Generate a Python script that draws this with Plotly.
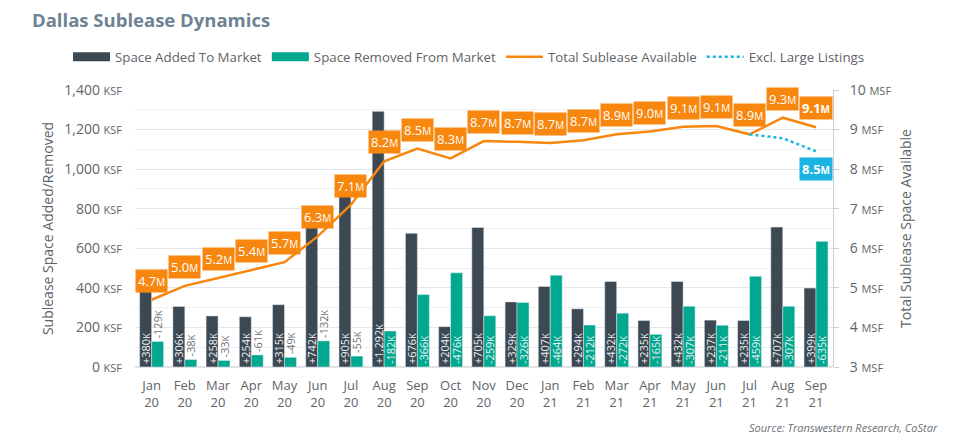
import plotly.graph_objects as go

# data
months = ["Jan<br>20", "Feb<br>20", "Mar<br>20", "Apr<br>20", "May<br>20", "Jun<br>20", "Jul<br>20",
          "Aug<br>20", "Sep<br>20", "Oct<br>20", "Nov<br>20", "Dec<br>20", "Jan<br>21", "Feb<br>21",
          "Mar<br>21", "Apr<br>21", "May<br>21", "Jun<br>21", "Jul<br>21", "Aug<br>21", "Sep<br>21"]
added_ksf = [380, 306, 258, 254, 315, 742, 905, 1292, 676, 204, 705, 329, 407, 294, 432, 235, 432, 237, 235, 707, 399]
removed_ksf = [129, 38, 33, 61, 49, 132, 55, 182, 366, 476, 259, 326, 464, 212, 272, 165, 307, 211, 459, 307, 635]
total_msf = [4.7, 5.05, 5.25, 5.45, 5.65, 6.3, 7.1, 8.2, 8.52, 8.27, 8.71, 8.69, 8.66, 8.73, 8.88, 8.95,
             9.07, 9.09, 8.88, 9.3, 9.06]
total_labels = ["4.7", "5.0", "5.2", "5.4", "5.7", "6.3", "7.1", "8.2", "8.5", "8.3", "8.7", "8.7", "8.7", "8.7",
                "8.9", "9.0", "9.1", "9.1", "8.9", "9.3", "9.1"]
excl_months = ["Jul<br>21", "Aug<br>21", "Sep<br>21"]
excl_msf = [8.88, 8.78, 8.45]
excl_label = "8.5"

left_ticks = [0, 200, 400, 600, 800, 1000, 1200, 1400]
right_ticks = [3, 4, 5, 6, 7, 8, 9, 10]

DARK = "#3c4852"
TEAL = "#00a88f"
ORANGE = "#f7870f"
CYAN = "#1ab4e3"
GREY = "#5f6468"
FONT = "Open Sans"

small = "<span style='font-size:%dpx'>%s</span>"

def bar_text(vals, sign):
    return [sign + format(v, ",") + small % (9, "K") for v in vals]

fig = go.Figure()

# bars, labels sit at the base when they fit, above the bar when not
fig.add_trace(go.Bar(x=months, y=added_ksf, name="Space Added To Market", showlegend=False,
                     marker=dict(color=DARK), hoverinfo="skip",
                     text=bar_text(added_ksf, "+"), textangle=-90, constraintext="none",
                     textposition=["inside" if v >= 150 else "outside" for v in added_ksf],
                     insidetextanchor="start",
                     insidetextfont=dict(family=FONT, size=11, color="#eef1f3"),
                     outsidetextfont=dict(family=FONT, size=11, color="#6b7075")))
fig.add_trace(go.Bar(x=months, y=removed_ksf, name="Space Removed From Market", showlegend=False,
                     marker=dict(color=TEAL), hoverinfo="skip",
                     text=bar_text(removed_ksf, "-"), textangle=-90, constraintext="none",
                     textposition=["inside" if v >= 150 else "outside" for v in removed_ksf],
                     insidetextanchor="start",
                     insidetextfont=dict(family=FONT, size=11, color="#eef1f3"),
                     outsidetextfont=dict(family=FONT, size=11, color="#6b7075")))

# legend entries with wide rectangles like the original
fig.add_trace(go.Scatter(x=[None], y=[None], mode="lines", name="Space Added To Market",
                         line=dict(color=DARK, width=9)))
fig.add_trace(go.Scatter(x=[None], y=[None], mode="lines", name="Space Removed From Market",
                         line=dict(color=TEAL, width=9)))

fig.add_trace(go.Scatter(x=months, y=total_msf, name="Total Sublease Available", yaxis="y2",
                         mode="lines", line=dict(color=ORANGE, width=2.5), hoverinfo="skip"))
fig.add_trace(go.Scatter(x=excl_months, y=excl_msf, name="Excl. Large Listings", yaxis="y2",
                         mode="lines", line=dict(color=CYAN, width=2.5, dash="dot"), hoverinfo="skip"))

annotations = []

# orange value boxes above the total line
for i, (m, v, t) in enumerate(zip(months, total_msf, total_labels)):
    txt = t + small % (10, "M")
    if i == len(months) - 1:
        txt = "<b>" + txt + "</b>"
    annotations.append(dict(x=m, y=v, xref="x", yref="y2", yshift=19, text=txt,
                            showarrow=False, bgcolor=ORANGE, borderpad=2,
                            font=dict(family=FONT, size=13, color="white")))

annotations.append(dict(x=excl_months[-1], y=excl_msf[-1], xref="x", yref="y2", yshift=-18,
                        text="<b>" + excl_label + small % (10, "M") + "</b>",
                        showarrow=False, bgcolor=CYAN, borderpad=2,
                        font=dict(family=FONT, size=13, color="white")))

annotations.append(dict(text="<i>Source: Transwestern Research, CoStar</i>", xref="paper", yref="paper",
                        x=1.153, y=-0.22, xanchor="right", yanchor="middle", showarrow=False,
                        font=dict(family=FONT, size=11, color="#6b7075")))

fig.update_layout(
    width=960, height=445,
    margin=dict(l=127, r=135, t=82, b=86),
    paper_bgcolor="white", plot_bgcolor="white",
    font=dict(family=FONT, color=GREY, size=13),
    title=dict(text="<b>Dallas Sublease Dynamics</b>", x=0.025, xanchor="left", y=0.972, yanchor="middle",
               font=dict(family=FONT, size=18.5, color="#6e8394")),
    barmode="group", bargap=0.28, bargroupgap=0,
    showlegend=True,
    legend=dict(orientation="h", x=-0.096, xanchor="left", y=1.119, yanchor="middle",
                font=dict(family=FONT, size=13.3, color=GREY), traceorder="normal", itemwidth=37),
    xaxis=dict(showgrid=False, tickfont=dict(size=13), ticklabelstandoff=9, automargin=False),
    yaxis=dict(range=[0, 1400], tickvals=left_ticks,
               ticktext=[format(v, ",") + " " + small % (11, "KSF") for v in left_ticks],
               showgrid=True, gridcolor="#e3e7ea", gridwidth=1,
               minor=dict(dtick=100, showgrid=True, gridcolor="#eef0f2"),
               zeroline=True, zerolinecolor="#dfe3e6", zerolinewidth=2,
               ticklabelstandoff=12, tickfont=dict(size=14), automargin=False,
               title=dict(text="Sublease Space Added/Removed", font=dict(size=14, color=GREY), standoff=7)),
    yaxis2=dict(range=[3, 10], tickvals=right_ticks,
                ticktext=[str(v) + " " + small % (11, "MSF") for v in right_ticks],
                overlaying="y", side="right", showgrid=False, zeroline=False,
                showline=True, linecolor="#c9ced2", linewidth=1, automargin=False,
                ticks="outside", ticklen=5, tickcolor="#c9ced2", tickfont=dict(size=14),
                ticklabelstandoff=8,
                title=dict(text="Total Sublease Space Available", font=dict(size=14, color=GREY), standoff=10)),
    annotations=annotations,
)

fig.write_html("out.html")
